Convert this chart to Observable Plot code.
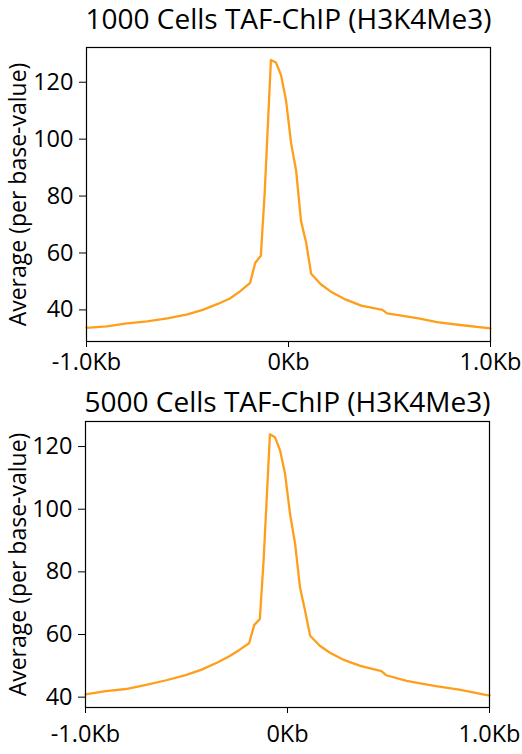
<!DOCTYPE html>
<html>
<head>
<meta charset="utf-8">
<script src="https://cdn.jsdelivr.net/npm/d3@7"></script>
<script src="https://cdn.jsdelivr.net/npm/@observablehq/plot@0.6"></script>
<style>
  html, body { margin: 0; padding: 0; background: white; }
  #chart svg { display: block; }
</style>
</head>
<body>
<div id="chart"></div>
<script>
// Distance from TSS (bp)
const positions = [-1000,-900,-800,-700,-600,-500,-425,-350,-290,-240,-190,-165,-137,-118,-87,-62,-37,-12,13,38,62,87,112,160,210,275,360,465,488,590,650,735,850,1000];
// Average per-base value, 1000 cells
const cells1000 = [33.7,34.2,35.3,36.0,37.0,38.4,40.0,42.1,44.0,46.5,49.5,56.5,59.0,81.0,127.8,126.9,122.5,113.5,98.5,88.8,71.2,63.8,52.7,49.0,46.4,43.9,41.5,40.0,38.8,37.6,36.9,35.7,34.7,33.5];
// Average per-base value, 5000 cells
const cells5000 = [40.9,41.9,42.6,43.9,45.4,47.1,48.8,51.0,53.0,55.0,57.2,63.0,64.9,84.0,123.9,123.0,118.8,111.3,98.3,88.8,75.0,67.6,59.6,56.4,54.2,52.0,50.0,48.3,47.0,45.2,44.5,43.5,42.4,40.5];

const titles = ["1000 Cells TAF-ChIP (H3K4Me3)", "5000 Cells TAF-ChIP (H3K4Me3)"];
const yLabel = "Average (per base-value)";
const xTicks = [-1000, 0, 1000];
const xTickLabels = ["-1.0Kb", "0Kb", "1.0Kb"];
const yTicks = [40, 60, 80, 100, 120];

const font = "'Open Sans', sans-serif";

function panel(values, title, cfg) {
  const data = positions.map((p, i) => ({x: p, y: values[i]}));
  return Plot.plot({
    width: 522,
    height: 377,
    marginTop: cfg.mt,
    marginBottom: cfg.mb,
    marginLeft: cfg.ml,
    marginRight: cfg.mr,
    style: {fontFamily: font, fontSize: "23px", color: "black", background: "white"},
    x: {domain: [-1000, 1000]},
    y: {domain: cfg.yDomain},
    marks: [
      Plot.axisX({ticks: xTicks, tickFormat: (d) => xTickLabels[xTicks.indexOf(d)], tickSize: 6, tickPadding: cfg.xPad, label: null, fontSize: 23.5}),
      Plot.axisY({ticks: yTicks, tickSize: 7, tickPadding: 6, label: null, fontSize: 23.5}),
      Plot.line(data, {x: "x", y: "y", stroke: "#ff9e1b", strokeWidth: 2.3}),
      Plot.frame({stroke: "black", strokeWidth: 1.2}),
      Plot.text([title], {frameAnchor: "top", dy: cfg.titleDy, fontSize: 28, lineAnchor: "middle", fill: "black"}),
      Plot.text([yLabel], {frameAnchor: "left", dx: -cfg.ml + 18, rotate: -90, fontSize: 23, textAnchor: "middle", lineAnchor: "middle", fill: "black"})
    ]
  });
}

const el = document.getElementById("chart");
el.appendChild(panel(cells1000, titles[0], {mt: 47, mb: 36, ml: 86, mr: 32, yDomain: [28.9, 132.2], xPad: 6, titleDy: -27}));
el.appendChild(panel(cells5000, titles[1], {mt: 44, mb: 47, ml: 85, mr: 33, yDomain: [36.7, 128.0], xPad: 12, titleDy: -18}));
</script>
</body>
</html>
